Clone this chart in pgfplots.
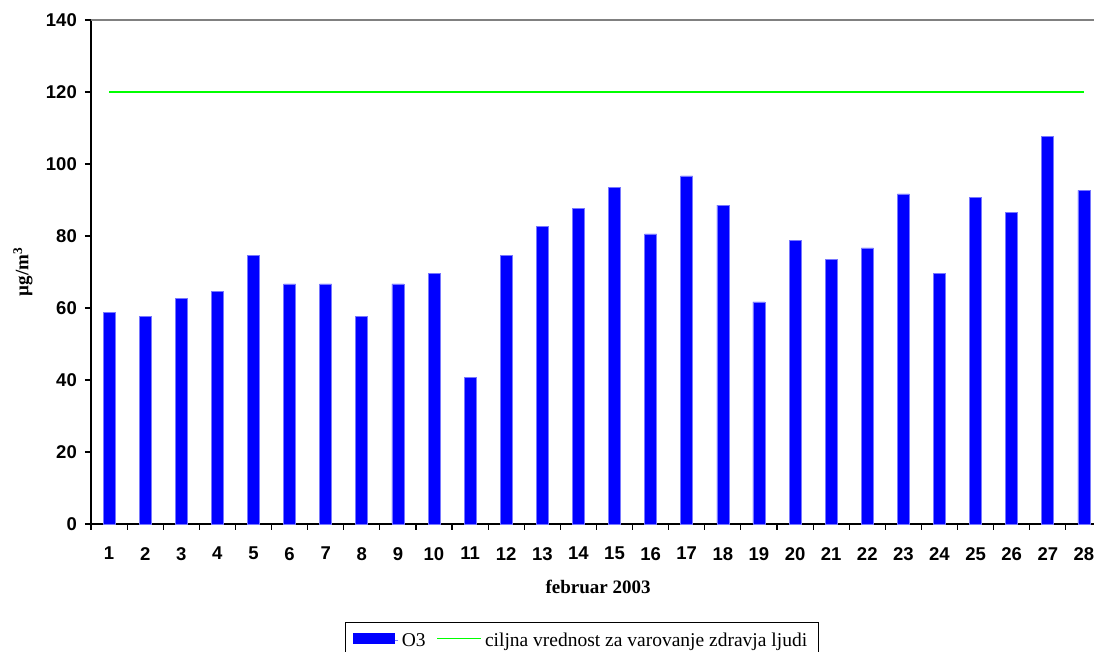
\documentclass[border=0pt]{standalone}
\usepackage{fontspec}
\setmainfont{Liberation Serif}
\setsansfont{Liberation Sans}
\usepackage{pgfplots}
\pgfplotsset{compat=1.18}
\definecolor{limegreen}{RGB}{0,255,0}
\definecolor{barblue}{RGB}{0,0,255}
\definecolor{baredge}{RGB}{120,120,255}
\begin{document}
\begin{tikzpicture}
\begin{axis}[
  name=ax,
  width=1003pt, height=504pt, scale only axis,
  xmin=0.5, xmax=28.28, ymin=0, ymax=140,
  clip=false,
  axis x line*=bottom, axis y line*=left,
  axis line style={line width=1.6pt, black},
  xtick={1,...,28},
  minor xtick={0.5,1.5,...,27.5},
  ytick={0,20,...,140},
  minor ytick={0,20,...,140},
  tick align=outside,
  major tick length=0pt, minor tick length=6pt,
  tick style={line width=1.2pt, black},
  /pgf/number format/assume math mode=true,
  ticklabel style={font=\sffamily\bfseries\fontsize{18.5}{20}\selectfont, inner sep=0pt},
  yticklabel style={xshift=-14pt},
  xticklabel style={yshift=-23pt},
  every axis y label/.style={at={([xshift=-62.7pt]axis description cs:0,0.5)}, rotate=90, anchor=base},
  every axis x label/.style={at={([yshift=-70pt]axis description cs:0.5055,0)}, anchor=base},
  label style={font=\bfseries\fontsize{19}{22}\selectfont},
  ylabel={µg/m\textsuperscript{3}},
  xlabel={februar 2003},
  legend columns=2,
  legend style={at={(axis description cs:0.4895,-0.1944)}, anchor=north,
    draw=black, line width=0.8pt, inner xsep=7.5pt, inner ysep=7pt,
    nodes={inner xsep=3.5pt, inner ysep=3.5pt, text depth=0.15em},
    font=\fontsize{19.5}{22}\selectfont,
    /tikz/every even column/.append style={column sep=7.5pt}},
]
\addplot[ybar, bar width=12pt, fill=barblue, draw=baredge, line width=0.6pt,
  legend image code/.code={\fill[barblue] (0pt,-2.5pt) rectangle (41pt,7pt); \path (41pt,0pt) -- (44.5pt,0pt);}]
coordinates {
(1,58.7) (2,57.7) (3,62.7) (4,64.6) (5,74.7) (6,66.7) (7,66.7) (8,57.7)
(9,66.7) (10,69.6) (11,40.7) (12,74.7) (13,82.7) (14,87.7) (15,93.6) (16,80.6)
(17,96.7) (18,88.6) (19,61.7) (20,78.7) (21,73.6) (22,76.7) (23,91.7) (24,69.6)
(25,90.7) (26,86.5) (27,107.7) (28,92.7)
};
\addplot[limegreen, line width=1.3pt, mark=none,
  legend image code/.code={\draw[limegreen, line width=1.3pt] (0pt,2pt) -- (40pt,2pt); \path (40pt,2pt) -- (43.5pt,2pt);}]
coordinates {(1,120) (28,120)};
\legend{O3, ciljna vrednost za varovanje zdravja ljudi}
\draw[gray, line width=1.6pt] (rel axis cs:0,1) -- (rel axis cs:1,1);
\end{axis}
\pgfresetboundingbox
\path[use as bounding box] ([xshift=-91pt,yshift=-128pt]ax.south west) rectangle ([yshift=20pt]ax.north east);
\end{tikzpicture}
\end{document}
